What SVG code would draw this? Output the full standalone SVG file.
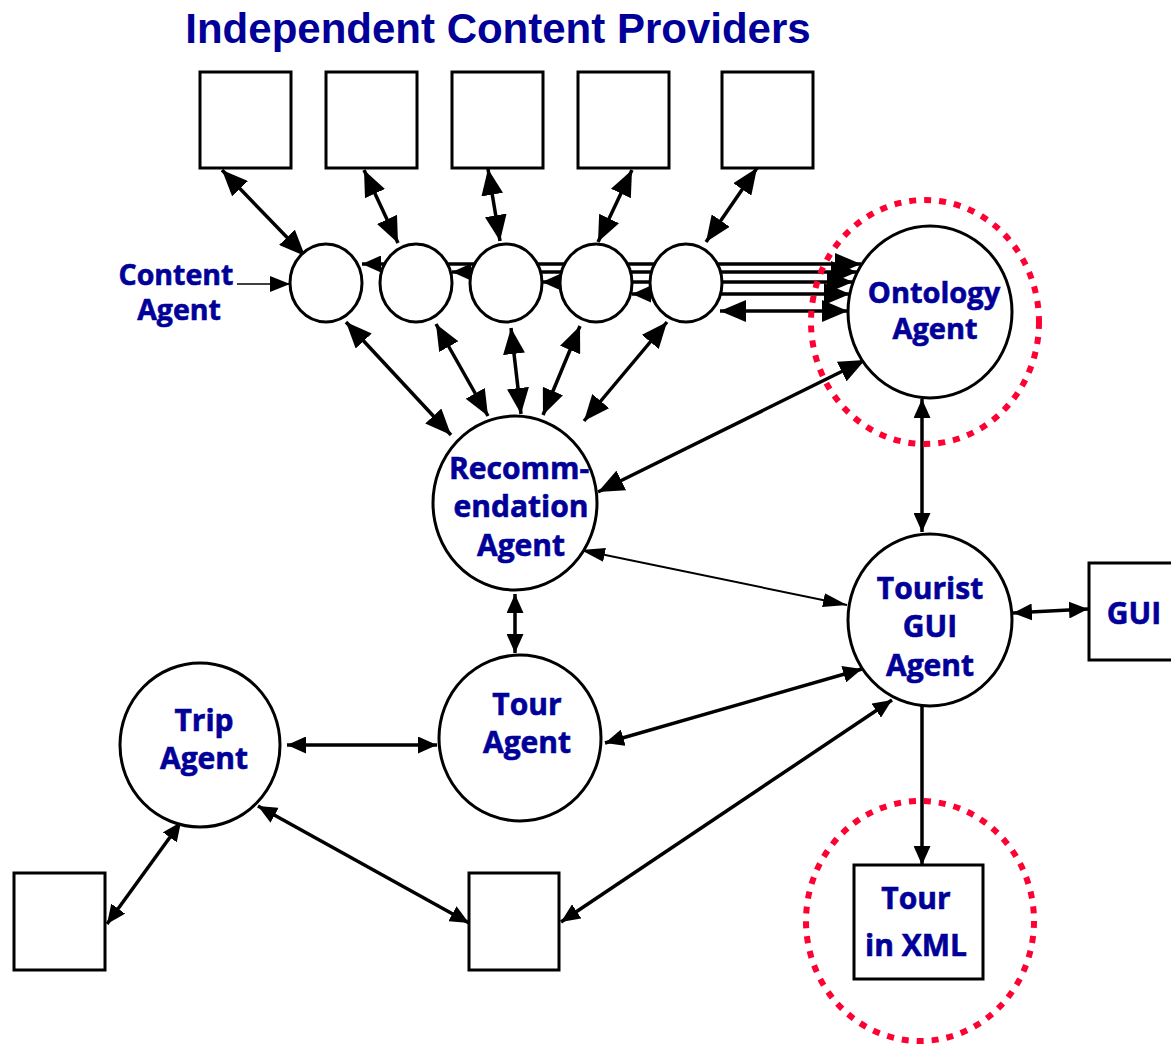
<svg xmlns="http://www.w3.org/2000/svg" width="1171" height="1045" viewBox="0 0 1171 1045">
<style>
.n{fill:#fff;stroke:#000;stroke-width:3}
.lbl{font-family:"Open Sans","DejaVu Sans",sans-serif;font-weight:700;font-size:30px;fill:#000099;stroke:#000099;stroke-width:0.6;text-anchor:middle}
.title{font-family:"Liberation Sans",Arial,sans-serif;font-weight:700;font-size:42px;fill:#000099;text-anchor:middle}
.c{fill:none;stroke:#000;stroke-width:3.5}
.big{marker-start:url(#ab);marker-end:url(#ab)}
.med{marker-start:url(#am);marker-end:url(#am)}
.red{fill:none;stroke:#ff0033;stroke-width:6;stroke-dasharray:7 8}
</style>
<defs>
<marker id="ab" markerUnits="userSpaceOnUse" viewBox="0 0 26 22" refX="26" refY="11" markerWidth="26" markerHeight="22" orient="auto-start-reverse"><path d="M0,0L26,11L0,22z" fill="#000"/></marker>
<marker id="am" markerUnits="userSpaceOnUse" viewBox="0 0 19 17" refX="19" refY="8.5" markerWidth="19" markerHeight="17" orient="auto-start-reverse"><path d="M0,0L19,8.5L0,17z" fill="#000"/></marker>
<marker id="at" markerUnits="userSpaceOnUse" viewBox="0 0 24 14" refX="24" refY="7" markerWidth="24" markerHeight="14" orient="auto-start-reverse"><path d="M0,0L24,7L0,14z" fill="#000"/></marker>
<marker id="as" markerUnits="userSpaceOnUse" viewBox="0 0 20 16" refX="20" refY="8" markerWidth="20" markerHeight="16" orient="auto"><path d="M0,0L20,8L0,16z" fill="#000"/></marker>
</defs>
<rect width="1171" height="1045" fill="#fff"/>
<text class="title" x="498" y="43">Independent Content Providers</text>

<g id="connectors">
<!-- providers to content agents -->
<line class="c big" x1="222" y1="170" x2="305" y2="256"/>
<line class="c big" x1="364" y1="170" x2="398" y2="243"/>
<line class="c big" x1="488" y1="169" x2="500" y2="241"/>
<line class="c big" x1="632" y1="170" x2="598" y2="242"/>
<line class="c big" x1="757" y1="168" x2="706" y2="242"/>
<!-- content agents to recommendation -->
<line class="c big" x1="346" y1="322" x2="451" y2="435"/>
<line class="c big" x1="436" y1="324" x2="488" y2="416"/>
<line class="c big" x1="511" y1="328" x2="521" y2="414"/>
<line class="c big" x1="580" y1="326" x2="543" y2="415"/>
<line class="c big" x1="667" y1="322" x2="584" y2="421"/>
<!-- content agents to ontology -->
<line class="c" x1="362" y1="264" x2="861" y2="264" marker-start="url(#am)" marker-end="url(#ab)"/>
<line class="c" x1="452" y1="272" x2="857" y2="272" marker-start="url(#am)" marker-end="url(#ab)"/>
<line class="c" x1="542" y1="282" x2="853" y2="282" marker-start="url(#am)" marker-end="url(#ab)"/>
<line class="c" x1="632" y1="294" x2="850" y2="294" marker-start="url(#am)" marker-end="url(#ab)"/>
<line class="c big" x1="720" y1="311" x2="848" y2="311"/>
<!-- content agent label arrow -->
<line x1="237" y1="284" x2="290" y2="284" stroke="#000" stroke-width="1.5" marker-end="url(#as)"/>
<!-- ontology / recommendation -->
<line class="c big" x1="865" y1="360" x2="598" y2="492"/>
<!-- ontology / tourist -->
<line class="c med" x1="922" y1="399" x2="922" y2="532"/>
<!-- recommendation / tourist -->
<line x1="581" y1="550" x2="847" y2="605" stroke="#000" stroke-width="2" marker-start="url(#at)" marker-end="url(#at)"/>
<!-- recommendation / tour -->
<line class="c med" x1="515" y1="594" x2="515" y2="653"/>
<!-- tourist / GUI -->
<line class="c med" x1="1013" y1="613" x2="1088" y2="609"/>
<!-- tourist -> tour in XML -->
<line class="c" x1="922" y1="706" x2="922" y2="865" marker-end="url(#am)"/>
<!-- tour / tourist -->
<line class="c med" x1="605" y1="743" x2="862" y2="669"/>
<!-- tourist / bottom box -->
<line class="c med" x1="892" y1="700" x2="561" y2="922"/>
<!-- trip / tour -->
<line class="c med" x1="287" y1="745" x2="437" y2="745"/>
<!-- trip / bottom box -->
<line class="c med" x1="258" y1="806" x2="469" y2="923"/>
<!-- trip / left box -->
<line class="c med" x1="181" y1="822" x2="107" y2="924"/>
</g>

<g id="providers">
<rect class="n" x="200" y="72" width="91" height="96"/>
<rect class="n" x="326" y="72" width="91" height="96"/>
<rect class="n" x="452" y="72" width="91" height="96"/>
<rect class="n" x="578" y="72" width="91" height="96"/>
<rect class="n" x="722" y="72" width="91" height="96"/>
</g>

<g id="content-agents">
<ellipse class="n" cx="326" cy="283" rx="36" ry="39"/>
<ellipse class="n" cx="416" cy="283" rx="36" ry="39"/>
<ellipse class="n" cx="506" cy="283" rx="36" ry="39"/>
<ellipse class="n" cx="596" cy="283" rx="36" ry="39"/>
<ellipse class="n" cx="686" cy="283" rx="36" ry="39"/>
<text class="lbl" x="176" y="285" style="font-size:28.5px">Content</text>
<text class="lbl" x="179" y="320" style="font-size:28.5px">Agent</text>
</g>

<g id="ontology-agent">
<ellipse class="n" cx="930" cy="312" rx="82" ry="86"/>
<text class="lbl" x="934" y="303" style="font-size:29px">Ontology</text>
<text class="lbl" x="935" y="339" style="font-size:29px">Agent</text>
</g>

<g id="recommendation-agent">
<ellipse class="n" cx="515" cy="503" rx="82" ry="87"/>
<text class="lbl" x="519" y="479">Recomm-</text>
<text class="lbl" x="521" y="517">endation</text>
<text class="lbl" x="521" y="556">Agent</text>
</g>

<g id="tourist-gui-agent">
<ellipse class="n" cx="930" cy="620" rx="82" ry="86"/>
<text class="lbl" x="930" y="599">Tourist</text>
<text class="lbl" x="930" y="637">GUI</text>
<text class="lbl" x="930" y="676">Agent</text>
</g>

<g id="gui">
<rect class="n" x="1089" y="563" width="90" height="97"/>
<text class="lbl" x="1134" y="624">GUI</text>
</g>

<g id="tour-agent">
<ellipse class="n" cx="520" cy="738" rx="81" ry="83"/>
<text class="lbl" x="527" y="715">Tour</text>
<text class="lbl" x="527" y="753">Agent</text>
</g>

<g id="trip-agent">
<ellipse class="n" cx="200" cy="745" rx="80" ry="82"/>
<text class="lbl" x="204" y="731">Trip</text>
<text class="lbl" x="204" y="769">Agent</text>
</g>

<g id="left-box">
<rect class="n" x="14" y="873" width="91" height="97"/>
</g>

<g id="middle-box">
<rect class="n" x="469" y="873" width="90" height="97"/>
</g>

<g id="tour-in-xml">
<rect class="n" x="854" y="865" width="129" height="114"/>
<text class="lbl" x="916" y="909">Tour</text>
<text class="lbl" x="916" y="956">in XML</text>
</g>

<g id="highlights">
<ellipse class="red" cx="925" cy="322" rx="114" ry="122"/>
<ellipse class="red" cx="920" cy="921" rx="114" ry="120"/>
</g>
</svg>
